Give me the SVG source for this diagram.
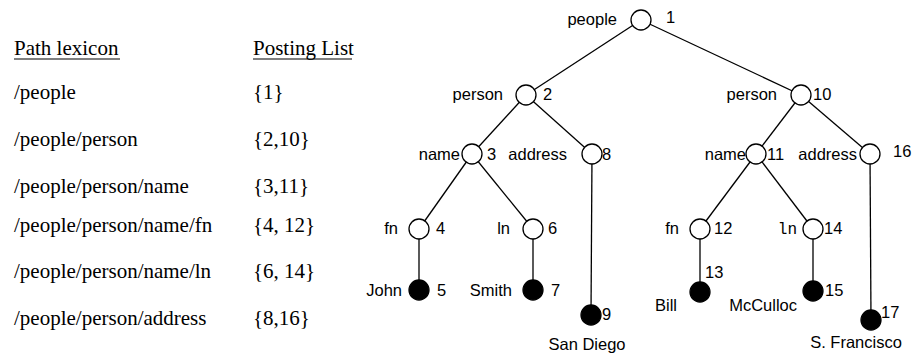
<svg xmlns="http://www.w3.org/2000/svg" width="914" height="354" viewBox="0 0 914 354">
<style>
.t{font-family:"Liberation Serif","Times New Roman",serif;font-size:21px;fill:#000}
.a{font-family:"Liberation Sans",Arial,sans-serif;font-size:16.5px;fill:#000}
.e{text-anchor:end}
.m{text-anchor:middle}
.mono{font-family:"Liberation Mono","Courier New",monospace;font-size:16px;fill:#000}
.c line{stroke:#000;stroke-width:1.3}
.o{fill:#fff;stroke:#000;stroke-width:1.3}
.f{fill:#000;stroke:#000;stroke-width:1.3}
</style>
<rect width="914" height="354" fill="#fff"/>
<g id="lexicon">
<text class="t" x="14" y="55">Path lexicon</text>
<line x1="14" y1="59" x2="120" y2="59" stroke="#000" stroke-width="1.2"/>
<text class="t" x="253" y="55">Posting List</text>
<line x1="253" y1="59" x2="352" y2="59" stroke="#000" stroke-width="1.2"/>
<text class="t" x="14" y="99">/people</text><text class="t" x="253" y="99">{1}</text>
<text class="t" x="14" y="146">/people/person</text><text class="t" x="253" y="146">{2,10}</text>
<text class="t" x="14" y="193">/people/person/name</text><text class="t" x="253" y="193">{3,11}</text>
<text class="t" x="14" y="232">/people/person/name/fn</text><text class="t" x="253" y="232">{4, 12}</text>
<text class="t" x="14" y="278">/people/person/name/ln</text><text class="t" x="253" y="278">{6, 14}</text>
<text class="t" x="14" y="325">/people/person/address</text><text class="t" x="253" y="325">{8,16}</text>
</g>
<g id="connectors" class="c">
<line x1="641" y1="20" x2="526" y2="95"/>
<line x1="641" y1="20" x2="801" y2="95"/>
<line x1="526" y1="95" x2="472" y2="154"/>
<line x1="526" y1="95" x2="592" y2="154"/>
<line x1="801" y1="95" x2="756" y2="154"/>
<line x1="801" y1="95" x2="870" y2="154"/>
<line x1="472" y1="154" x2="419" y2="229"/>
<line x1="472" y1="154" x2="533" y2="229"/>
<line x1="756" y1="154" x2="700" y2="229"/>
<line x1="756" y1="154" x2="813" y2="229"/>
<line x1="419" y1="229" x2="419" y2="290"/>
<line x1="533" y1="229" x2="533" y2="290"/>
<line x1="592" y1="154" x2="591" y2="315"/>
<line x1="700" y1="229" x2="700" y2="292"/>
<line x1="813" y1="229" x2="813" y2="291"/>
<line x1="870" y1="154" x2="871" y2="320"/>
</g>
<g id="n1"><circle class="o" cx="641" cy="20" r="10"/><text class="a e" x="617" y="25">people</text><text class="a" x="666" y="23">1</text></g>
<g id="n2"><circle class="o" cx="526" cy="95" r="10"/><text class="a e" x="503" y="100">person</text><text class="a" x="543" y="100">2</text></g>
<g id="n3"><circle class="o" cx="472" cy="154" r="10"/><text class="a e" x="460" y="160">name</text><text class="a" x="487" y="160">3</text></g>
<g id="n4"><circle class="o" cx="419" cy="229" r="10"/><text class="a e" x="398" y="234">fn</text><text class="a" x="436" y="234">4</text></g>
<g id="n5"><circle class="f" cx="419" cy="290" r="10"/><text class="a e" x="402" y="296">John</text><text class="a" x="437" y="296">5</text></g>
<g id="n6"><circle class="o" cx="533" cy="229" r="10"/><text class="a e" x="510" y="234">ln</text><text class="a" x="548" y="234">6</text></g>
<g id="n7"><circle class="f" cx="533" cy="290" r="10"/><text class="a e" x="512" y="296">Smith</text><text class="a" x="551" y="296">7</text></g>
<g id="n8"><circle class="o" cx="592" cy="154" r="10"/><text class="a e" x="567" y="160">address</text><text class="a" x="602" y="160">8</text></g>
<g id="n9"><circle class="f" cx="591" cy="315" r="10"/><text class="a" x="602" y="320">9</text><text class="a m" x="587" y="350">San Diego</text></g>
<g id="n10"><circle class="o" cx="801" cy="95" r="10"/><text class="a e" x="777" y="100">person</text><text class="a" x="813" y="100">10</text></g>
<g id="n11"><circle class="o" cx="756" cy="154" r="10"/><text class="a e" x="746" y="160">name</text><text class="a" x="767" y="160">11</text></g>
<g id="n12"><circle class="o" cx="700" cy="229" r="10"/><text class="a e" x="679" y="234">fn</text><text class="a" x="714" y="234">12</text></g>
<g id="n13"><circle class="f" cx="700" cy="292" r="10"/><text class="a" x="705" y="278">13</text><text class="a" x="655" y="311">Bill</text></g>
<g id="n14"><circle class="o" cx="813" cy="229" r="10"/><text class="mono e" x="797" y="234">ln</text><text class="a" x="824" y="234">14</text></g>
<g id="n15"><circle class="f" cx="813" cy="291" r="10"/><text class="a" x="825" y="296">15</text><text class="a e" x="797" y="311">McCulloc</text></g>
<g id="n16"><circle class="o" cx="870" cy="154" r="10"/><text class="a e" x="857" y="160">address</text><text class="a" x="893" y="157">16</text></g>
<g id="n17"><circle class="f" cx="871" cy="320" r="10"/><text class="a" x="881" y="318">17</text><text class="a m" x="856" y="348">S. Francisco</text></g>
</svg>
